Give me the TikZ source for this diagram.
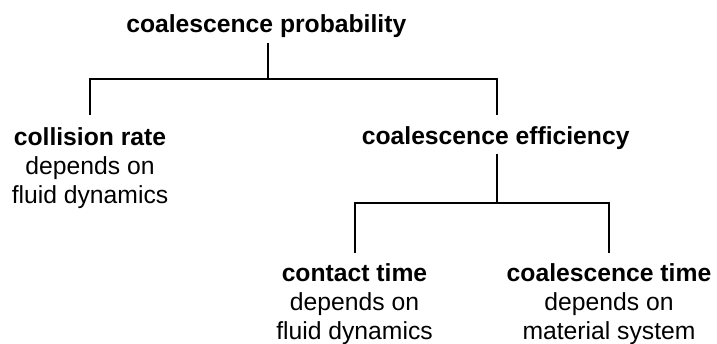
\documentclass[tikz,border=0pt]{standalone}
\usepackage{fontspec}
\setmainfont{Liberation Sans}
\begin{document}
\begin{tikzpicture}[x=1pt,y=1pt,
  lbl/.style={inner sep=0pt, outer sep=0pt, align=center, anchor=base,
    font=\fontsize{24.7}{29}\selectfont},
  tree/.style={line width=2pt, black}]
\useasboundingbox (0,0) rectangle (717,-344);
\node[lbl] (top) at (266.3,-33) {\textbf{coalescence probability}};
\node[lbl] (cr) at (90,-203.3) {\textbf{collision rate}\\depends on\\fluid dynamics};
\node[lbl] (ce) at (495.7,-145) {\textbf{coalescence efficiency}};
\node[lbl] (ct) at (354.5,-339.3) {\textbf{contact time}\\depends on\\fluid dynamics};
\node[lbl] (cs) at (609,-339.3) {\textbf{coalescence time}\\depends on\\material system};
\coordinate (j1) at (268.3,-79.3);
\coordinate (j2) at (497,-203.3);
\draw[tree] ([yshift=-4.5pt]top.south -| j1) -- (j1);
\draw[tree] ([yshift=12.3pt]cr.north) |- (j1) -| ([yshift=12.3pt]ce.north -| j2);
\draw[tree] ([yshift=-3.8pt]ce.south -| j2) -- (j2);
\draw[tree] ([yshift=10.6pt]ct.north) |- (j2) -| ([yshift=10.6pt]cs.north);
\end{tikzpicture}
\end{document}
